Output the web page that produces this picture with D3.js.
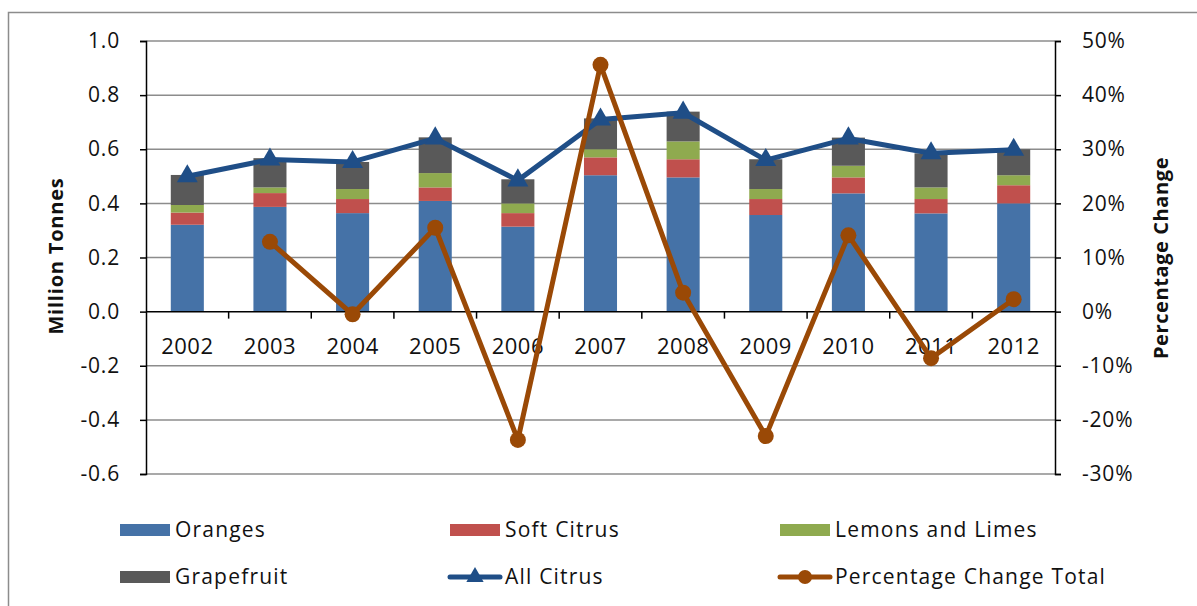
<!DOCTYPE html>
<html>
<head>
<meta charset="utf-8">
<script src="https://cdn.jsdelivr.net/npm/d3@7"></script>
<style>
  body { margin: 0; background: #fff; }
  svg text { font-family: "Open Sans", "Liberation Sans", sans-serif; fill: #111; }
  .grid line { stroke: #8c8c8c; stroke-width: 1.5; }
  .axis path, .axis line { stroke: #000; stroke-width: 1.5; }
</style>
</head>
<body>
<div class="app"></div>
<script>
'use strict'

// данные
var years = ["2002", "2003", "2004", "2005", "2006", "2007", "2008", "2009", "2010", "2011", "2012"];
var oranges    = [0.321, 0.387, 0.364, 0.409, 0.314, 0.504, 0.496, 0.357, 0.437, 0.363, 0.400];
var softCitrus = [0.045, 0.051, 0.052, 0.050, 0.050, 0.066, 0.067, 0.059, 0.059, 0.053, 0.067];
var lemons     = [0.028, 0.021, 0.037, 0.053, 0.036, 0.030, 0.066, 0.037, 0.043, 0.043, 0.037];
var grapefruit = [0.111, 0.108, 0.100, 0.132, 0.089, 0.114, 0.110, 0.110, 0.104, 0.126, 0.096];
var allCitrus  = [0.500, 0.562, 0.553, 0.640, 0.485, 0.710, 0.735, 0.560, 0.640, 0.585, 0.598];
var pctChange  = [null, 0.129, -0.005, 0.155, -0.237, 0.456, 0.035, -0.230, 0.141, -0.086, 0.023];

var leftTicks  = [-0.6, -0.4, -0.2, 0, 0.2, 0.4, 0.6, 0.8, 1.0];
var rightTicks = [-0.3, -0.2, -0.1, 0, 0.1, 0.2, 0.3, 0.4, 0.5];

var seriesNames  = ["Oranges", "Soft Citrus", "Lemons and Limes", "Grapefruit"];
var seriesColors = ["#4572A7", "#C0504D", "#8FAA4F", "#595959"];
var lineColor = "#1F4E87";
var pctColor  = "#9A4906";

var W = 1197, H = 606;
var plot = { left: 146, right: 1055, top: 41, bottom: 474 };

var locale = d3.formatLocale({ decimal: ".", thousands: ",", grouping: [3], currency: ["", ""], minus: "-" });

var x = d3.scaleBand().domain(years).range([plot.left, plot.right]).padding(0);
var y = d3.scaleLinear().domain([-0.6, 1.0]).range([plot.bottom, plot.top]);
var y2 = d3.scaleLinear().domain([-0.3, 0.5]).range([plot.bottom, plot.top]);

var svg = d3.select(".app").append("svg")
  .attr("width", W)
  .attr("height", H);

// рамка
svg.append("rect")
  .attr("x", 8.5).attr("y", 12.5)
  .attr("width", W).attr("height", H)
  .attr("fill", "none")
  .attr("stroke", "#8c8c8c")
  .attr("stroke-width", 1.5);

// сетка
svg.append("g").attr("class", "grid")
  .selectAll("line")
  .data(leftTicks.filter(function(d) { return d !== 0; }))
  .enter().append("line")
  .attr("x1", plot.left).attr("x2", plot.right)
  .attr("y1", function(d) { return y(d); })
  .attr("y2", function(d) { return y(d); });

// стек
var rows = years.map(function(yr, i) {
  return { year: yr, s0: oranges[i], s1: softCitrus[i], s2: lemons[i], s3: grapefruit[i] };
});
var stack = d3.stack().keys(["s0", "s1", "s2", "s3"]);
var layers = stack(rows);

var bw = x.bandwidth() * 0.4;

svg.append("g").attr("class", "bars")
  .selectAll("g")
  .data(layers)
  .enter().append("g")
  .attr("fill", function(d, i) { return seriesColors[i]; })
  .selectAll("rect")
  .data(function(d) { return d; })
  .enter().append("rect")
  .attr("x", function(d) { return x(d.data.year) + (x.bandwidth() - bw) / 2; })
  .attr("width", bw)
  .attr("y", function(d) { return y(d[1]); })
  .attr("height", function(d) { return y(d[0]) - y(d[1]); });

// оси
var yAxis = d3.axisLeft(y).tickValues(leftTicks).tickSize(6).tickPadding(20)
  .tickFormat(locale.format(".1f"));
var y2Axis = d3.axisRight(y2).tickValues(rightTicks).tickSize(6).tickPadding(21)
  .tickFormat(locale.format(".0%"));

svg.append("g").attr("class", "axis y-axis")
  .attr("transform", "translate(" + plot.left + ",0)")
  .call(yAxis)
  .call(function(g) {
    g.selectAll("text").style("font-size", "21px").style("letter-spacing", "0.8px");
  });

svg.append("g").attr("class", "axis y2-axis")
  .attr("transform", "translate(" + plot.right + ",0)")
  .call(y2Axis)
  .call(function(g) {
    g.selectAll("text").style("font-size", "21px").style("letter-spacing", "0.8px");
  });

// ось X по нулю
var xAxis = d3.axisBottom(x).tickSize(0).tickPadding(0);
var xg = svg.append("g").attr("class", "axis x-axis")
  .attr("transform", "translate(0," + y(0) + ")")
  .call(xAxis);
xg.select(".domain").attr("d", "M" + plot.left + ",0H" + plot.right);
xg.selectAll("text")
  .attr("y", 35).attr("dy", "0.35em")
  .style("font-size", "22px")
  .style("letter-spacing", "0.5px");

xg.selectAll("line.boundary")
  .data(years.slice(1))
  .enter().append("line")
  .attr("class", "boundary")
  .attr("x1", function(d) { return x(d); })
  .attr("x2", function(d) { return x(d); })
  .attr("y1", 0).attr("y2", 7);

// линия All Citrus
var cx = function(i) { return x(years[i]) + x.bandwidth() / 2; };

var line = d3.line()
  .x(function(d, i) { return cx(i); })
  .y(function(d) { return y(d); });

svg.append("path")
  .attr("d", line(allCitrus))
  .attr("fill", "none")
  .attr("stroke", lineColor)
  .attr("stroke-width", 5)
  .attr("stroke-linejoin", "round");

var tri = d3.symbol().type(d3.symbolTriangle).size(190);
svg.append("g").selectAll("path")
  .data(allCitrus)
  .enter().append("path")
  .attr("d", tri)
  .attr("fill", lineColor)
  .attr("transform", function(d, i) { return "translate(" + cx(i) + "," + y(d) + ")"; });

// линия процентов
var pctLine = d3.line()
  .defined(function(d) { return d !== null; })
  .x(function(d, i) { return cx(i); })
  .y(function(d) { return y2(d); });

svg.append("path")
  .attr("d", pctLine(pctChange))
  .attr("fill", "none")
  .attr("stroke", pctColor)
  .attr("stroke-width", 5)
  .attr("stroke-linejoin", "round");

svg.append("g").selectAll("circle")
  .data(pctChange.map(function(d, i) { return { v: d, i: i }; }).filter(function(d) { return d.v !== null; }))
  .enter().append("circle")
  .attr("cx", function(d) { return cx(d.i); })
  .attr("cy", function(d) { return y2(d.v); })
  .attr("r", 8)
  .attr("fill", pctColor);

// заголовки осей
svg.append("text")
  .attr("transform", "translate(63,256) rotate(-90)")
  .attr("text-anchor", "middle")
  .style("font-size", "20px")
  .style("font-weight", "bold")
  .style("letter-spacing", "0.8px")
  .text("Million Tonnes");

svg.append("text")
  .attr("transform", "translate(1168,258) rotate(-90)")
  .attr("text-anchor", "middle")
  .style("font-size", "20px")
  .style("font-weight", "bold")
  .style("letter-spacing", "0.6px")
  .text("Percentage Change");

// легенда
var legendItems = [
  { name: seriesNames[0], type: "rect", color: seriesColors[0], col: 0, row: 0 },
  { name: seriesNames[1], type: "rect", color: seriesColors[1], col: 1, row: 0 },
  { name: seriesNames[2], type: "rect", color: seriesColors[2], col: 2, row: 0 },
  { name: seriesNames[3], type: "rect", color: seriesColors[3], col: 0, row: 1 },
  { name: "All Citrus", type: "tri", color: lineColor, col: 1, row: 1 },
  { name: "Percentage Change Total", type: "dot", color: pctColor, col: 2, row: 1 }
];
var colX = [120, 450, 780];
var rowY = [530, 577];

var legend = svg.append("g").attr("class", "legend")
  .selectAll("g")
  .data(legendItems)
  .enter().append("g")
  .attr("transform", function(d) { return "translate(" + colX[d.col] + "," + rowY[d.row] + ")"; });

legend.filter(function(d) { return d.type === "rect"; })
  .append("rect")
  .attr("x", 0).attr("y", -6)
  .attr("width", 50).attr("height", 12)
  .attr("fill", function(d) { return d.color; });

legend.filter(function(d) { return d.type !== "rect"; })
  .append("line")
  .attr("x1", 0).attr("x2", 50)
  .attr("y1", 0).attr("y2", 0)
  .attr("stroke", function(d) { return d.color; })
  .attr("stroke-width", 5)
  .attr("stroke-linecap", "round");

legend.filter(function(d) { return d.type === "tri"; })
  .append("path")
  .attr("d", d3.symbol().type(d3.symbolTriangle).size(130))
  .attr("transform", "translate(25,0)")
  .attr("fill", function(d) { return d.color; });

legend.filter(function(d) { return d.type === "dot"; })
  .append("circle")
  .attr("cx", 25).attr("cy", 0).attr("r", 7)
  .attr("fill", function(d) { return d.color; });

legend.append("text")
  .attr("x", 55)
  .attr("y", 0)
  .attr("dy", "0.35em")
  .style("font-size", "21px")
  .style("letter-spacing", "1.2px")
  .text(function(d) { return d.name; });
</script>
</body>
</html>
